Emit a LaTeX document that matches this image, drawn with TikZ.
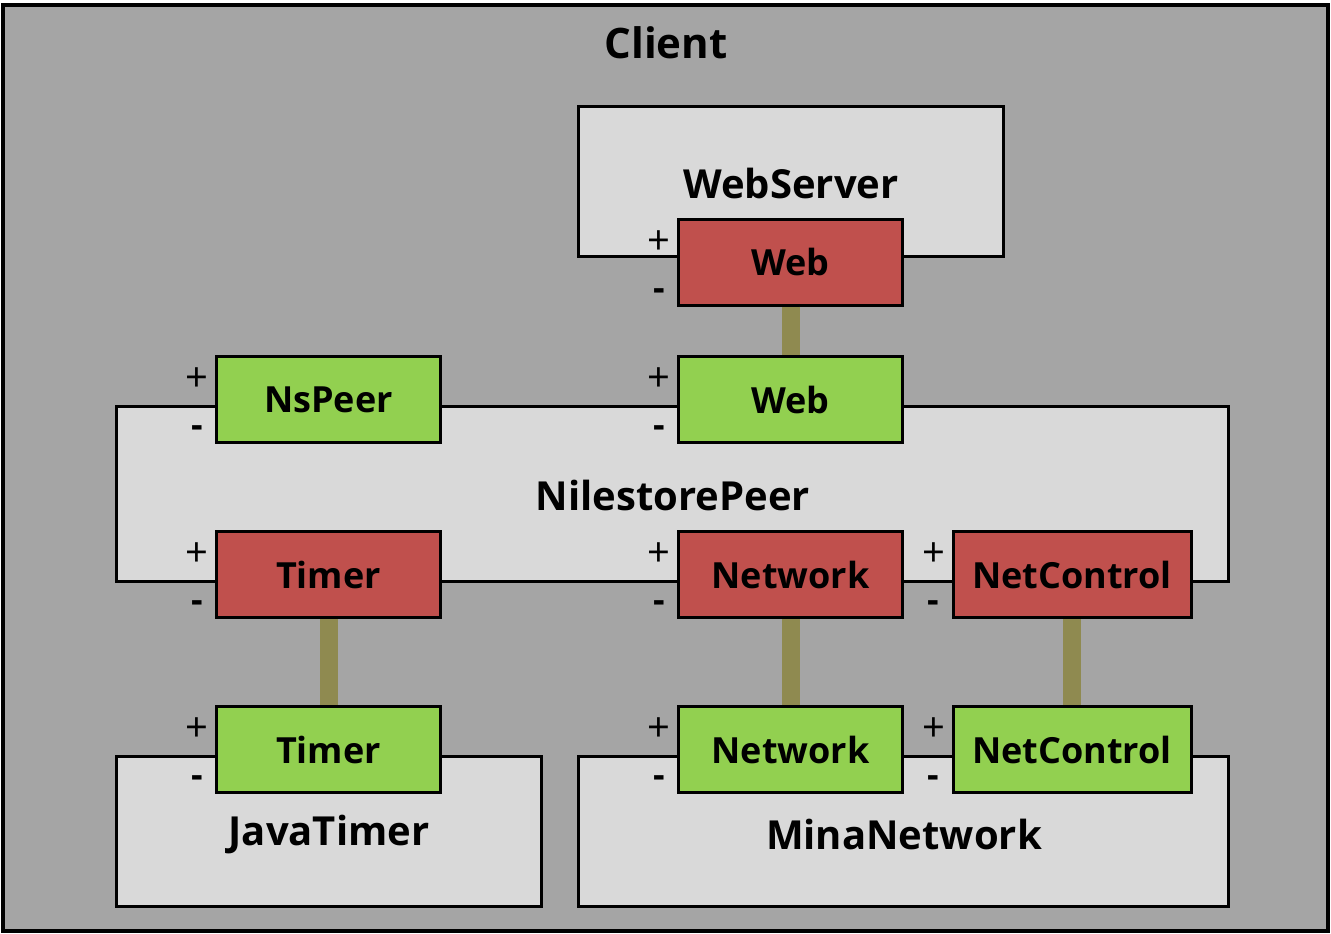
\documentclass[tikz,border=0pt]{standalone}
\usepackage{fontspec}
\setmainfont{Open Sans}
\definecolor{bggray}{HTML}{A5A5A5}
\definecolor{boxgray}{HTML}{D9D9D9}
\definecolor{portred}{HTML}{C0504D}
\definecolor{portgreen}{HTML}{92D050}
\definecolor{connol}{HTML}{8F8A50}
\tikzset{
  outerbox/.style={draw=black, line width=4pt, fill=bggray},
  compbox/.style={draw=black, line width=3pt, fill=boxgray},
  portbox/.style={draw=black, line width=3pt, minimum width=224pt, minimum height=86pt, inner sep=0pt, font=\fontsize{36}{38}\selectfont\bfseries},
  req/.style={portbox, fill=portred},
  prov/.style={portbox, fill=portgreen},
  lbl/.style={font=\fontsize{40}{42}\selectfont\bfseries, inner sep=0pt},
  plussign/.style={font=\fontsize{40}{42}\selectfont, inner sep=0pt},
  minussign/.style={font=\fontsize{36}{38}\selectfont\bfseries, inner sep=0pt},
  conn/.style={draw=connol, line width=18pt}
}
\begin{document}
\begin{tikzpicture}[x=1pt,y=-1pt]
\useasboundingbox (0,0) rectangle (1331,934);
% outer
\draw[outerbox] (3,5) rectangle (1328,931);
\node[lbl,font=\fontsize{42}{44}\selectfont\bfseries] (clientlbl) at (666,43) {Client};
% components
\draw[compbox] (578,106) rectangle (1003,256);
\node[lbl] (webserverlbl) at (791,183) {WebServer};
\draw[compbox] (116,406) rectangle (1228,581);
\node[lbl] (nilelbl) at (673,495) {NilestorePeer};
\draw[compbox] (116,756) rectangle (541,906);
\node[lbl] (javalbl) at (329,834) {JavaTimer};
\draw[compbox] (578,756) rectangle (1228,906);
\node[lbl] (minalbl) at (904,834) {MinaNetwork};
% ports
\node[req]  (webR)     at (790.5,262)  {Web};
\node[prov] (webG)     at (790.5,399.5) {Web};
\node[prov] (nspeer)   at (328.5,399.5) {NsPeer};
\node[req]  (timerR)   at (328.5,574.5) {Timer};
\node[req]  (networkR) at (790.5,574.5) {Network};
\node[req,minimum width=238pt]  (netctrlR) at (1072,574.5) {NetControl};
\node[prov] (timerG)   at (328.5,749.5) {Timer};
\node[prov] (networkG) at (790.5,749.5) {Network};
\node[prov,minimum width=238pt] (netctrlG) at (1072,749.5) {NetControl};
% connectors
\draw[conn] (webR.south) -- (webG.north);
\draw[conn] (timerR.south) -- (timerG.north);
\draw[conn] (networkR.south) -- (networkG.north);
\draw[conn] (netctrlR.south) -- (netctrlG.north);
% signs
\foreach \p in {webR,webG,nspeer,timerR,networkR,netctrlR,timerG,networkG,netctrlG}{
  \node[plussign] (\p-plus) at ([shift={(-18,25)}]\p.north west) {+};
  \node[minussign] (\p-minus) at ([shift={(-18,77)}]\p.north west) {-};
}
\end{tikzpicture}
\end{document}
